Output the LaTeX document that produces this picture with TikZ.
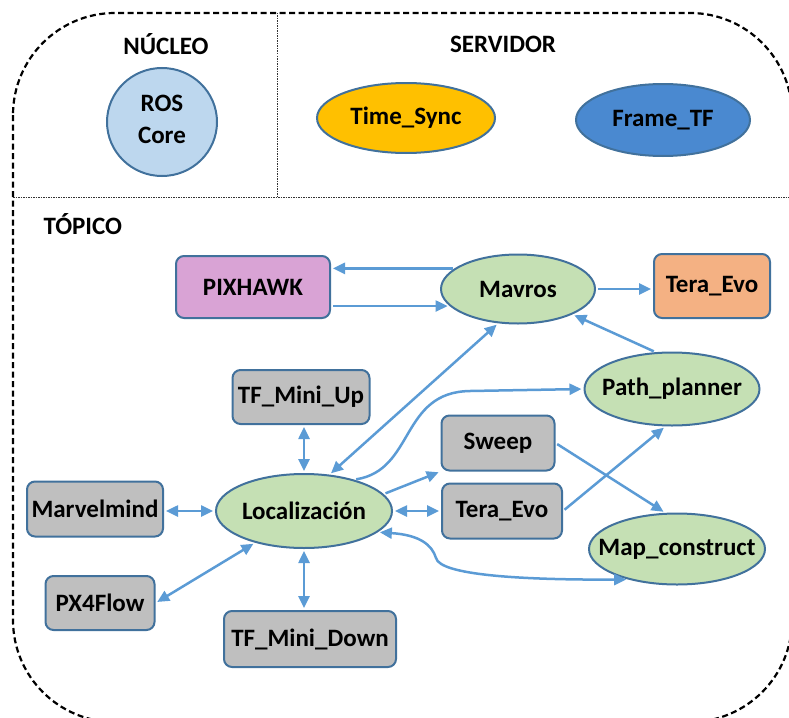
\documentclass[tikz,border=0pt]{standalone}
\usepackage{fontspec}
\setmainfont{Carlito}
\usetikzlibrary{arrows.meta,shapes.geometric,positioning}
\definecolor{cLine}{RGB}{91,155,213}
\definecolor{cEdge}{RGB}{65,113,156}
\definecolor{cTopic}{RGB}{197,224,180}
\definecolor{cSensor}{RGB}{191,191,191}
\definecolor{cCore}{RGB}{189,215,238}
\definecolor{cSync}{RGB}{255,192,0}
\definecolor{cFrame}{RGB}{74,137,208}
\definecolor{cPix}{RGB}{217,163,213}
\definecolor{cEvo}{RGB}{244,177,131}
\newcommand{\lbl}[1]{\makebox[0pt]{#1}}

\begin{document}
\begin{tikzpicture}[x=1pt,y=-1pt,
  font=\fontsize{25}{29}\selectfont\bfseries,
  >={Triangle[length=12pt,width=11pt]},
  box/.style={draw=cEdge,line width=2pt,rounded corners=8pt,inner sep=0pt},
  oval/.style={draw=cEdge,line width=2pt,ellipse,inner sep=0pt,fill=cTopic},
  link/.style={draw=cLine,line width=2.5pt,->,shorten >=2pt,shorten <=2pt},
  both/.style={link,<->}]
  \useasboundingbox (0,0) rectangle (789,717);
  % frame
  \begin{scope}
    \clip (0,0) rectangle (789,717);
    \draw[line width=2.2pt,dash pattern=on 6pt off 3.5pt,rounded corners=102pt] (13,13) rectangle (792,722);
  \end{scope}
  \draw[black!80,line width=0.8pt,dash pattern=on 1.5pt off 1pt] (277,13) -- (277,197);
  \draw[black!80,line width=0.8pt,dash pattern=on 1.5pt off 1pt] (13,197) -- (789,197);
  % headers
  \node (hcore) at (166,44) {NÚCLEO};
  \node (hserv) at (503,44) {SERVIDOR};
  \node[anchor=west] (htopic) at (40,224) {TÓPICO};
  % core and servers
  \node[oval,fill=cCore,minimum width=110pt,minimum height=108pt] (ros) at (162,122)
    {\lbl{\begin{tabular}{@{}c@{}}ROS\\[3pt]Core\end{tabular}}};
  \node[oval,fill=cSync,minimum width=178pt,minimum height=70pt] (sync) at (406,118) {\lbl{Time\_Sync}};
  \node[oval,fill=cFrame,minimum width=174pt,minimum height=72pt] (frame) at (663,120) {\lbl{Frame\_TF}};
  % topics
  \node[box,fill=cPix,minimum width=154pt,minimum height=62pt] (pix) at (253,287) {PIXHAWK};
  \node[oval,minimum width=154pt,minimum height=69pt] (mavros) at (518,289) {\lbl{Mavros}};
  \node[box,fill=cEvo,minimum width=116pt,minimum height=64pt] (evoA) at (712,286) {Tera\_Evo};
  \node[box,fill=cSensor,minimum width=137pt,minimum height=54pt] (tfup) at (301,397) {TF\_Mini\_Up};
  \node[oval,minimum width=175pt,minimum height=73pt] (planner) at (672,389) {\lbl{Path\_planner}};
  \node[box,fill=cSensor,minimum width=113pt,minimum height=55pt] (sweep) at (498,443) {Sweep};
  \node[box,fill=cSensor,minimum width=120pt,minimum height=55pt] (evoB) at (502,511) {Tera\_Evo};
  \node[box,fill=cSensor,minimum width=136pt,minimum height=55pt] (marvel) at (95,509) {Marvelmind};
  \node[oval,minimum width=176pt,minimum height=74pt] (loc) at (304,511) {\lbl{Localización}};
  \node[oval,minimum width=176pt,minimum height=71pt] (mapc) at (677,549) {\lbl{Map\_construct}};
  \node[box,fill=cSensor,minimum width=109pt,minimum height=54pt] (px4) at (100,603) {PX4Flow};
  \node[box,fill=cSensor,minimum width=172pt,minimum height=56pt] (tfdown) at (310,639) {TF\_Mini\_Down};
  % mavros links
  \draw[link] (mavros.162) -- (pix.east |- mavros.162);
  \draw[link] (pix.east |- mavros.194) -- (mavros.194);
  \draw[link] (mavros.east) -- (evoA.west |- mavros.east);
  \draw[link] (planner.114) -- (mavros.-25);
  \draw[both] (loc.55) -- (mavros.-120);
  % localization links
  \draw[link] (loc.32) .. controls (415,470) and (400,392) .. (470,391) -- (planner.west);
  \draw[link] (loc.12) -- (sweep.south west);
  \draw[both] (loc.east) -- (evoB.west |- loc.east);
  \draw[link] (sweep.east) -- (mapc.108);
  \draw[link] (evoB.east) -- (planner.-100);
  \draw[both] (loc.-16) .. controls (420,535) and (432,545) .. (436,558)
    .. controls (440,575) and (520,580) .. (mapc.-148);
  \draw[both] (tfup.south -| loc.north) -- (loc.north);
  \draw[both] (marvel.east |- loc.west) -- (loc.west);
  \draw[both] (px4.east) -- (loc.-147);
  \draw[both] (loc.south) -- (tfdown.north -| loc.south);
\end{tikzpicture}
\end{document}
